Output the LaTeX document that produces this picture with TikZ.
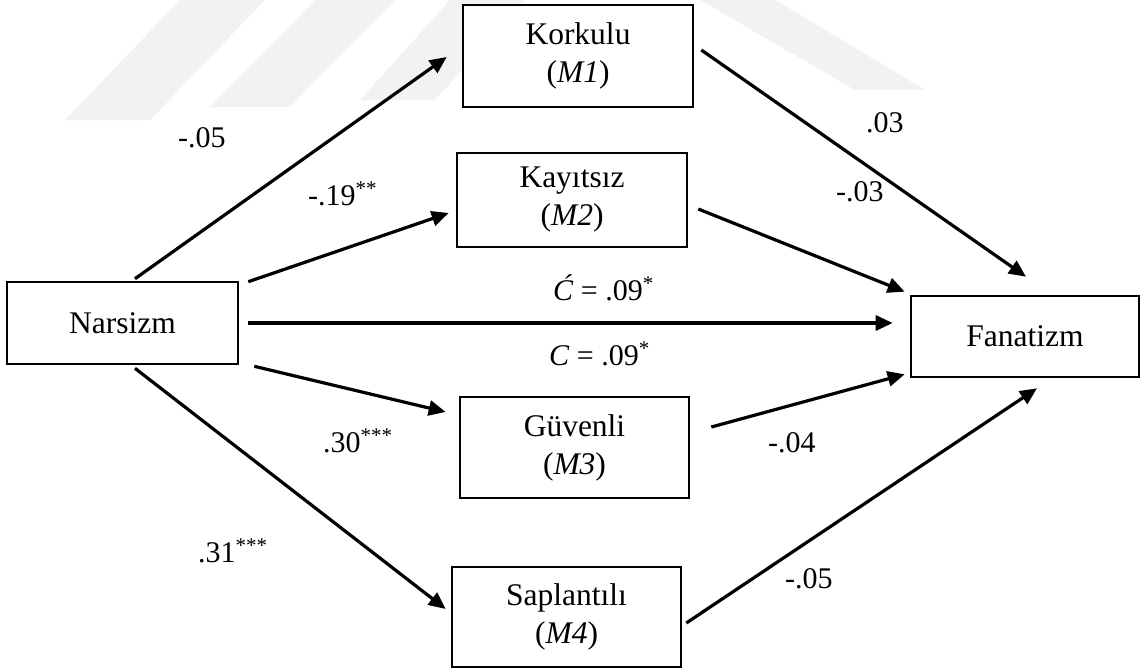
\documentclass[tikz,border=0pt]{standalone}
\usepackage{fontspec}
\setmainfont{Liberation Serif}
\usetikzlibrary{arrows.meta,calc}
\begin{document}
\begin{tikzpicture}[x=1pt,y=-1pt,
  box/.style={draw,line width=2.6pt,fill=white,inner sep=0pt,align=center,font=\fontsize{31.5}{38}\selectfont},
  arr/.style={line width=3.2pt,-{Triangle[length=17pt,width=15pt]}},
  lab/.style={anchor=base west,inner sep=0pt,font=\fontsize{30}{36}\selectfont},
  wm/.style={fill=black!5,draw=none}]
\useasboundingbox (0,0) rectangle (1141,670);
% faint watermark
\fill[wm] (65,120) -- (150,120) -- (265,0) -- (180,0) -- cycle;
\fill[wm] (210,107) -- (290,107) -- (395,0) -- (315,0) -- cycle;
\fill[wm] (360,100) -- (435,100) -- (525,0) -- (450,0) -- cycle;
\fill[wm] (700,0) -- (775,0) -- (925,90) -- (855,90) -- cycle;
% boxes
\node[box,minimum width=230pt,minimum height=102pt] (m1) at (578,56) {Korkulu\\(\textit{M1})};
\node[box,minimum width=230pt,minimum height=94pt] (m2) at (572,200) {Kayıtsız\\(\textit{M2})};
\node[box,minimum width=231pt,minimum height=82pt] (nar) at (122.5,323) {Narsizm};
\node[box,minimum width=228pt,minimum height=81pt] (fan) at (1025,336.5) {Fanatizm};
\node[box,minimum width=229pt,minimum height=101pt] (m3) at (574.5,447.5) {Güvenli\\(\textit{M3})};
\node[box,minimum width=229pt,minimum height=100pt] (m4) at (566.5,617) {Saplantılı\\(\textit{M4})};
% connectors
\draw[arr] ($(nar.north)+(12.5,-2)$) -- ($(m1.west)+(-15,1)$);
\draw[arr] ($(nar.north east)+(9,1)$) -- ($(m2.west)+(-7,13)$);
\draw[arr] ($(nar.east)+(9,0)$) -- ($(fan.west)+(-17,-13.5)$);
\draw[arr] ($(nar.south east)+(15,1)$) -- ($(m3.west)+(-13,-35.5)$);
\draw[arr] ($(nar.south)+(12.5,3)$) -- ($(m4.west)+(-5,-8)$);
\draw[arr] ($(m1.east)+(7,-6)$) -- ($(fan.north)+(1,-18)$);
\draw[arr] ($(m2.east)+(10,9)$) -- ($(fan.north west)+(-5,-3)$);
\draw[arr] ($(m3.east)+(21,-20.5)$) -- ($(fan.south west)+(-5,-4)$);
\draw[arr] ($(m4.east)+(4,6)$) -- ($(fan.south)+(12,10)$);
% labels
\node[lab] (l1) at (178,147) {-.05};
\node[lab] (l2) at (866,132) {.03};
\node[lab] (l3) at (308,205) {-.19\textsuperscript{**}};
\node[lab] (l4) at (836,201) {-.03};
\node[lab] (l5) at (553,300) {\textit{Ć} = .09\textsuperscript{*}};
\node[lab] (l6) at (549,365) {\textit{C} = .09\textsuperscript{*}};
\node[lab] (l7) at (323,452) {.30\textsuperscript{***}};
\node[lab] (l8) at (768,452) {-.04};
\node[lab] (l9) at (198,562) {.31\textsuperscript{***}};
\node[lab] (l10) at (785,588) {-.05};
\end{tikzpicture}
\end{document}
